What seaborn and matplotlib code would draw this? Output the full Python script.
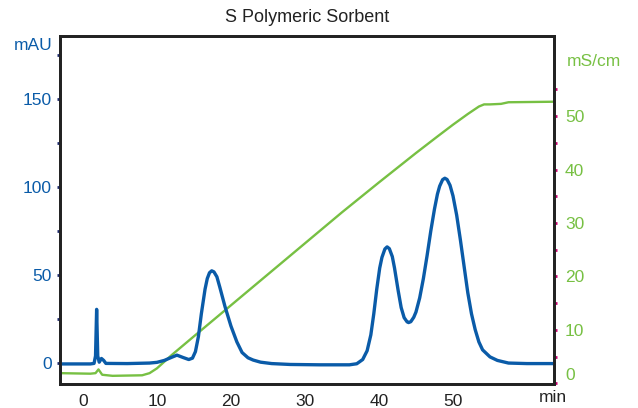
"""
S Polymeric Sorbent chromatogram: UV absorbance and conductivity.
"""
import matplotlib
matplotlib.use('Agg')
import matplotlib.pyplot as plt
import pandas as pd
import seaborn as sns

TITLE = 'S Polymeric Sorbent'
BLUE = '#0a5ba8'
GREEN = '#77c043'
MAGENTA = '#c8006e'
NAVY = '#1d2a6b'

# UV trace (mAU)
uv_time = [-3.1, 1.0, 1.5, 1.7, 1.85, 2.0, 2.2, 2.5, 2.8, 3.1, 6.0, 9.0, 10.0, 11.0,
           12.0, 12.7, 13.5, 14.3, 14.8, 15.2, 15.6, 16.0, 16.5, 16.8, 17.1, 17.4,
           17.7, 18.1, 18.5, 19.2, 20.0, 20.8, 21.5, 22.3, 23.0, 24.0, 25.5, 28.0,
           32.0, 36.0, 37.0, 37.8, 38.4, 38.9, 39.3, 39.7, 40.1, 40.4, 40.8, 41.1,
           41.4, 41.8, 42.1, 42.6, 43.0, 43.4, 43.8, 44.0, 44.3, 44.7, 45.0, 45.5,
           46.0, 46.5, 47.0, 47.5, 47.9, 48.2, 48.6, 48.9, 49.2, 49.6, 50.0, 50.5,
           51.0, 51.5, 52.0, 52.5, 53.0, 53.5, 54.0, 55.0, 56.0, 57.5, 60.0, 63.7]
uv_mau = [-0.5, -0.5, -0.2, 4.0, 30.5, 4.0, 0.5, 2.6, 1.5, -0.2, -0.3, 0.0, 0.4, 1.5,
          3.3, 4.5, 3.2, 2.0, 2.8, 6.5, 15.0, 28.0, 42.0, 48.0, 51.3, 52.4,
          51.8, 49.0, 43.0, 32.0, 21.0, 12.0, 6.0, 3.0, 1.7, 0.5, -0.3, -0.8,
          -1.0, -1.0, -0.4, 2.0, 7.0, 16.0, 28.0, 42.0, 54.0, 60.0, 64.8, 66.0,
          65.0, 60.5, 54.0, 41.0, 31.5, 25.8, 23.4, 23.0, 23.5, 26.0, 29.0, 37.0,
          48.0, 61.0, 75.0, 87.5, 96.0, 100.5, 104.2, 105.0, 104.3, 101.0, 95.0, 84.0,
          70.0, 55.0, 40.0, 28.0, 19.0, 12.0, 7.5, 3.5, 1.5, 0.0, -0.3, -0.3]

# Conductivity trace (mS/cm)
cond_time = [-3.1, 1.0, 1.7, 2.1, 2.6, 4.0, 8.0, 9.0, 10.0, 12.0, 15.0, 20.0, 25.0,
             30.0, 35.0, 40.0, 43.0, 45.0, 48.0, 50.0, 52.0, 53.5, 54.2, 55.0,
             56.5, 57.5, 63.7]
cond_ms = [1.9, 1.8, 1.9, 2.6, 1.6, 1.4, 1.5, 1.9, 2.8, 5.3, 8.8, 14.6, 20.4,
           26.2, 32.0, 37.6, 40.9, 43.1, 46.3, 48.4, 50.4, 51.8, 52.2, 52.2,
           52.3, 52.6, 52.7]

uv = pd.DataFrame({'min': uv_time, 'mAU': uv_mau})
cond = pd.DataFrame({'min': cond_time, 'mS/cm': cond_ms})

sns.set_theme(style='white')
plt.rcParams['font.family'] = ['Liberation Sans', 'DejaVu Sans']

fig = plt.figure(figsize=(6.38, 4.08), dpi=100)
ax = fig.add_axes([60 / 638, 1 - 384 / 408, 494 / 638, 348 / 408])
ax2 = ax.twinx()

sns.lineplot(data=cond, x='min', y='mS/cm', ax=ax2, color=GREEN, lw=1.7, sort=False)
sns.lineplot(data=uv, x='min', y='mAU', ax=ax, color=BLUE, lw=2.4, sort=False)

# blue trace above the green one
ax.set_zorder(ax2.get_zorder() + 1)
ax.patch.set_visible(False)

ax.set_xlim(-3.1, 63.65)
ax.set_ylim(-11.9, 185.8)
ax2.set_ylim(-0.13, 65.0)

ax.set_xticks([0, 10, 20, 30, 40, 50])
ax.set_xticks([5, 15, 25, 35, 45, 55, 60], minor=True)
ax.set_yticks([0, 50, 100, 150])
ax.set_yticks([25, 75, 125, 175], minor=True)
ax2.set_yticks([0, 10, 20, 30, 40, 50])
ax2.set_yticks([5, 15, 25, 35, 45, 55], minor=True)

ax.tick_params(axis='x', which='both', direction='out', length=2, width=1.5,
               color='#aaaaaa', labelsize=12.5, labelcolor='#222222', pad=5)
ax.tick_params(axis='y', which='both', direction='out', length=2, width=2,
               color=NAVY, labelsize=12.5, labelcolor=BLUE, pad=4)
ax2.tick_params(axis='y', which='both', direction='out', length=2, width=2,
                color=MAGENTA, labelsize=12.5, labelcolor=GREEN, pad=6)

ax.set_xlabel(None)
ax.set_ylabel(None)
ax2.set_ylabel(None)

for a in (ax, ax2):
    for side in ('left', 'right', 'top', 'bottom'):
        a.spines[side].set_visible(True)
        a.spines[side].set_color('#222222')
        a.spines[side].set_linewidth(2)

# keep the right-hand zero inside the frame
ax2.get_yticklabels()[0].set_va('bottom')

fig.text(307 / 638, 1 - 18 / 408, TITLE, ha='center', va='center', fontsize=13, color='#222222')
fig.text(53 / 638, 1 - 45.5 / 408, 'mAU', ha='right', va='center', fontsize=12.5, color=BLUE)
fig.text(567 / 638, 1 - 61.5 / 408, 'mS/cm', ha='left', va='center', fontsize=12.5, color=GREEN)
fig.text(553 / 638, 1 - 398 / 408, 'min', ha='center', va='center', fontsize=12.5, color='#222222')

fig.savefig('out.png', dpi=100)
